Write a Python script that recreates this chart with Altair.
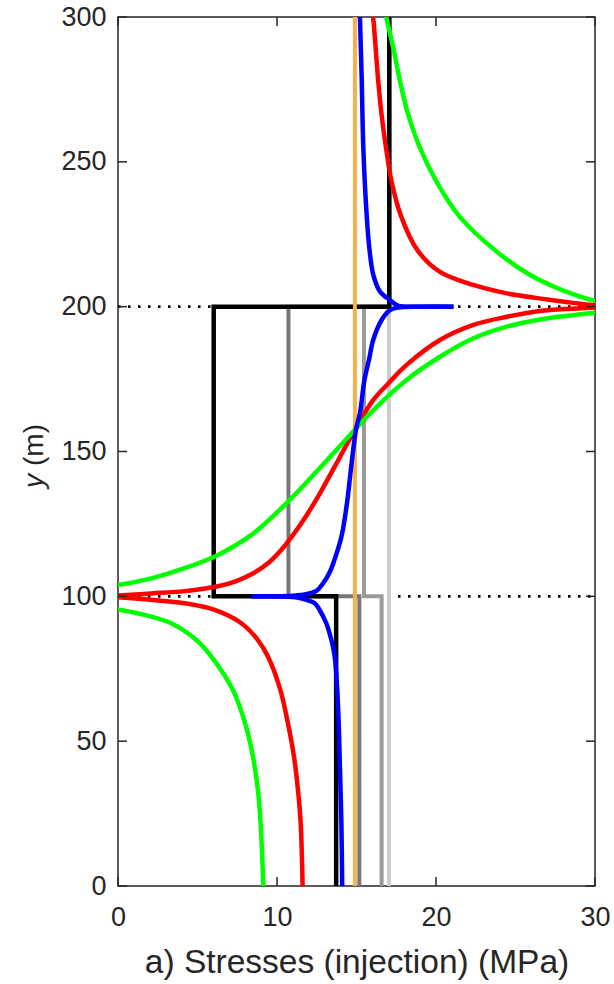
import altair as alt
import pandas as pd

# Axis ticks and the two layer interfaces (m)
X_TICKS = [0, 10, 20, 30]
Y_TICKS = [0, 50, 100, 150, 200, 250, 300]
INTERFACES = [100, 200]

# Piecewise-constant profiles, one value per layer (0-100, 100-200, 200-300 m)
LAYER_BOUNDS = [0, 100, 200, 300]
black_layers = [13.72, 6.02, 17.06]
dark_gray_layers = [15.18, 10.72, 17.06]
mid_gray_layers = [16.58, 15.47, 17.06]
light_gray_layers = [17.04, 17.04, 17.04]
orange_layers = [14.9, 14.9, 14.9]

# Blue profile
blue_low_x = [14.1, 14.05, 13.94, 13.88, 13.79, 13.63, 13.42, 13.1, 12.68, 12.37, 11.74, 11.0, 8.4]
blue_low_y = [0, 21.6, 44.6, 56.1, 67.7, 79.2, 84.9, 90.7, 95.3, 97.6, 99.0, 99.8, 100]
blue_mid_x = [8.4, 11.0, 11.9, 12.5, 12.9, 13.33, 13.7, 14.07, 14.38, 14.7, 14.97, 15.22, 15.5, 15.8, 16.05, 16.58, 17.1, 17.6, 19.0, 21.1]
blue_mid_y = [100, 100.2, 100.8, 102, 104.5, 108.5, 114, 121, 131.3, 146.3, 157.6, 163.4, 174.7, 182, 188.5, 195.4, 198.8, 199.7, 200, 200]
blue_up_x = [21.1, 19.0, 17.6, 17.1, 16.48, 16.06, 15.81, 15.64, 15.43, 15.33, 15.22, 15.2]
blue_up_y = [200, 200, 200.4, 202.3, 205.2, 210.9, 220.1, 231.6, 254.7, 277.7, 299.3, 302]

# Red profile
red_low_x = [11.61, 11.49, 11.32, 11.07, 10.69, 10.21, 9.43, 8.8, 7.76, 6.08, 4.19, 1.68, 0, -1]
red_low_y = [0, 21.6, 33.1, 44.6, 56.1, 67.7, 79.2, 84.9, 90.7, 95.3, 97.6, 99.0, 99.7, 100]
red_mid_x = [-1, 0, 2.1, 4.19, 6.29, 7.4, 8.39, 9.43, 10.48, 11.53, 12.58, 13.63, 14.9, 16.06, 17.0, 18.15, 20.25, 22.35, 24.45, 26.54, 28.5, 30, 31]
red_mid_y = [100, 100.3, 101.0, 101.8, 103.5, 105.2, 107.6, 111.4, 117.4, 125.2, 134.4, 144.8, 157.5, 167.8, 173.5, 179.9, 188.5, 193.7, 196.5, 198.5, 199.3, 199.7, 200]
red_up_x = [31, 30, 28.5, 27, 24.45, 22.35, 20.25, 18.83, 17.78, 17.21, 16.86, 16.58, 16.37, 16.06, 16.0]
red_up_y = [200, 200.5, 201.4, 202.5, 204.6, 207.5, 212, 219.5, 231.6, 243.1, 254.7, 266.2, 277.7, 299.3, 302]

# Green profile
green_low_x = [9.14, 8.97, 8.8, 8.49, 8.0, 7.23, 5.87, 4.93, 3.35, 1.68, 0, -1]
green_low_y = [0, 21.6, 33.1, 44.6, 56.1, 67.7, 79.2, 84.9, 90.7, 93.6, 95.5, 96.3]
green_mid_x = [-1, 0, 2.1, 4.19, 6.29, 8.39, 10.48, 12.58, 14.9, 16.06, 18.15, 20.25, 22.35, 24.45, 26.54, 28.3, 30, 31]
green_mid_y = [103.3, 103.9, 106.2, 109.7, 114.3, 121.2, 131.5, 143.6, 157.5, 164.3, 174.7, 182.7, 189.1, 193.1, 195.6, 196.9, 197.9, 198.3]
green_up_x = [31, 30, 29, 27.8, 25.9, 23.82, 21.5, 20.04, 19.0, 18.26, 17.74, 17.32, 16.9, 16.85]
green_up_y = [201.6, 202.0, 203.6, 206.0, 211.0, 219.0, 231.0, 243.1, 254.7, 266.2, 277.7, 289.2, 299.3, 301]

FRAME = "#262626"
FONT = "Liberation Sans"
W, H = 477, 869

xs = alt.Scale(domain=[0, 30], nice=False)
ys = alt.Scale(domain=[0, 300], nice=False)

# One axis definition shared by every layer, so the merged axes agree
AX = alt.Axis(values=X_TICKS, title="a) Stresses (injection) (MPa)", ticks=False, domain=False,
              grid=False, labelFontSize=27, labelPadding=18, labelColor=FRAME,
              labelFont=FONT, titleFont=FONT, titleFontSize=33.5, titleFontWeight="normal",
              titleColor=FRAME, titlePadding=16, labelFlush=False)
AY = alt.Axis(values=Y_TICKS, title=None, ticks=False, domain=False, grid=False,
              labelFontSize=27, labelPadding=12, labelColor=FRAME, labelFont=FONT,
              labelFlush=False)


def X(field="x"):
    return alt.X(f"{field}:Q", scale=xs, axis=AX)


def Y(field="y"):
    return alt.Y(f"{field}:Q", scale=ys, axis=AY)


def step_rows(name, values):
    rows = []
    for i, v in enumerate(values):
        rows.append({"series": name, "x": v, "y": LAYER_BOUNDS[i]})
        rows.append({"series": name, "x": v, "y": LAYER_BOUNDS[i + 1]})
    for k, r in enumerate(rows):
        r["order"] = k
    return rows


def curve_rows(name, segments):
    rows = []
    for s, (xv, yv) in enumerate(segments):
        for k, (a, b) in enumerate(zip(xv, yv)):
            rows.append({"series": name, "seg": s, "order": k, "x": a, "y": b})
    return rows


def step_layer(name, values, color, width):
    df = pd.DataFrame(step_rows(name, values))
    return alt.Chart(df).mark_line(color=color, strokeWidth=width, clip=True,
                                   strokeJoin="miter", strokeCap="butt").encode(
        x=X(), y=Y(), order="order:Q")


def curve_layer(name, segments, color, width=4.5):
    df = pd.DataFrame(curve_rows(name, segments))
    return alt.Chart(df).mark_line(color=color, strokeWidth=width, clip=True,
                                   interpolate="catmull-rom").encode(
        x=X(), y=Y(), detail="seg:N", order="order:Q")


# Dotted markers at the layer interfaces, drawn beneath everything else
iface = alt.Chart(pd.DataFrame({"y": INTERFACES})).mark_rule(
    color="black", strokeWidth=2.8, strokeDash=[2.5, 7.5]
).encode(y=Y(), x=alt.value(0), x2=alt.value(W))

# Inward-facing ticks on all four sides
tick_len = 9
xt = pd.DataFrame({"x": X_TICKS})
yt = pd.DataFrame({"y": Y_TICKS})
tick_style = dict(color=FRAME, strokeWidth=1.5)
ticks = [
    alt.Chart(xt).mark_rule(**tick_style).encode(x=X(), y=alt.value(H), y2=alt.value(H - tick_len)),
    alt.Chart(xt).mark_rule(**tick_style).encode(x=X(), y=alt.value(0), y2=alt.value(tick_len)),
    alt.Chart(yt).mark_rule(**tick_style).encode(y=Y(), x=alt.value(0), x2=alt.value(tick_len)),
    alt.Chart(yt).mark_rule(**tick_style).encode(y=Y(), x=alt.value(W), x2=alt.value(W - tick_len)),
]

# Y-axis title with an italic variable name
ytitle_y = alt.Chart(pd.DataFrame({"t": ["y"]})).mark_text(
    angle=270, align="left", baseline="middle", fontSize=28, fontStyle="italic",
    font=FONT, color=FRAME
).encode(text="t:N", x=alt.value(-83), y=alt.value(471))
ytitle_m = alt.Chart(pd.DataFrame({"t": ["(m)"]})).mark_text(
    angle=270, align="left", baseline="middle", fontSize=28,
    font=FONT, color=FRAME
).encode(text="t:N", x=alt.value(-83), y=alt.value(449))

layers = [
    iface,
    step_layer("light", light_gray_layers, "#cccccc", 4),
    step_layer("mid", mid_gray_layers, "#9a9a9a", 4),
    step_layer("dark", dark_gray_layers, "#777777", 4),
    step_layer("black", black_layers, "#000000", 4.5),
    step_layer("orange", orange_layers, "#f5b04c", 4),
    curve_layer("red", [(red_low_x, red_low_y), (red_mid_x, red_mid_y), (red_up_x, red_up_y)], "#ff0000"),
    curve_layer("green", [(green_low_x, green_low_y), (green_mid_x, green_mid_y), (green_up_x, green_up_y)], "#00ff00"),
    curve_layer("blue", [(blue_low_x, blue_low_y), (blue_mid_x, blue_mid_y), (blue_up_x, blue_up_y)], "#0000ff"),
    *ticks,
    ytitle_y,
    ytitle_m,
]

chart = alt.layer(*layers).properties(
    width=W, height=H,
    autosize=alt.AutoSizeParams(type="none"),
    padding={"left": 118, "top": 17, "right": 19, "bottom": 98},
    background="white",
).configure_view(stroke=FRAME, strokeWidth=1.5)

chart.save("out.html", embed_options={"renderer": "svg", "actions": False})
